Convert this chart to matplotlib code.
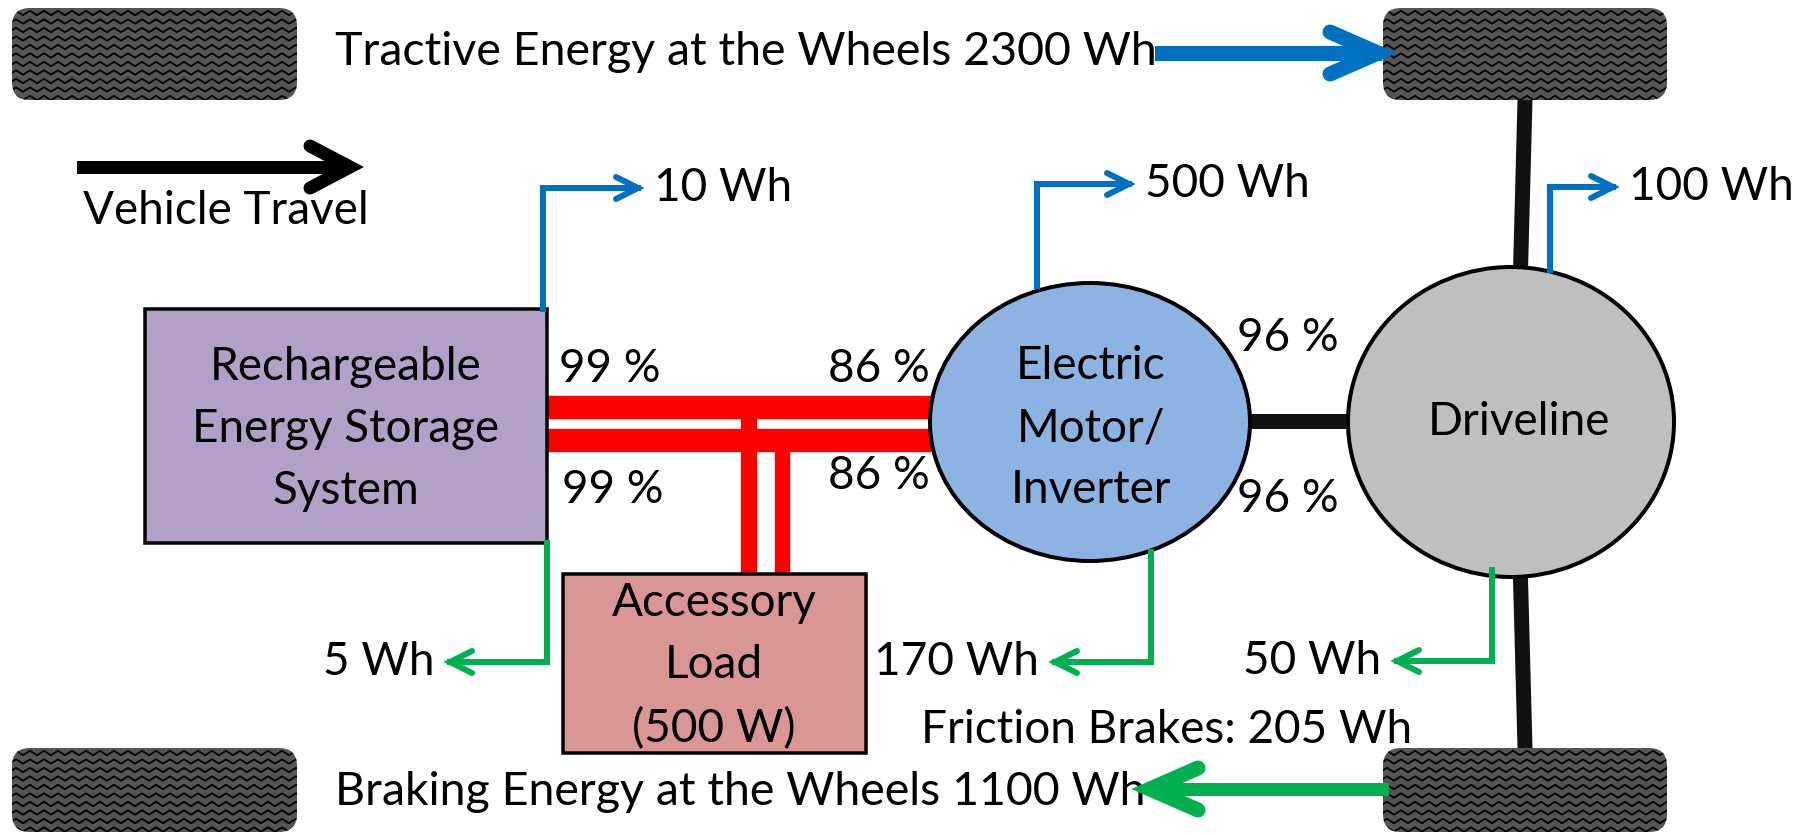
import matplotlib
matplotlib.use("Agg")
import matplotlib.pyplot as plt
from matplotlib.patches import Rectangle, Ellipse, FancyBboxPatch
import numpy as np

plt.rcParams["font.family"] = ["Lato", "DejaVu Sans"]

# Energy values (Wh) and efficiencies
tractive_wh = 2300
braking_wh = 1100
friction_wh = 205
discharge_losses_wh = [10, 500, 100]   # RESS, motor/inverter, driveline (blue)
regen_losses_wh = [5, 170, 50]         # RESS, motor/inverter, driveline (green)
ress_eff = [99, 99]                    # discharge, charge
motor_eff = [86, 86]
driveline_eff = [96, 96]
accessory_w = 500

component_labels = ["Rechargeable\nEnergy Storage\nSystem", "Electric\nMotor/\nInverter",
                    "Driveline", f"Accessory\nLoad\n({accessory_w} W)"]

BLUE = "#0070c0"
GREEN = "#00b050"
RED = "#ff0000"
PX = 0.72  # points per pixel at dpi 100
FS = 33

fig = plt.figure(figsize=(18.1, 8.35), dpi=100)
ax = fig.add_axes([0, 0, 1, 1])
ax.set_xlim(0, 1810)
ax.set_ylim(835, 0)
ax.axis("off")


def wheel(x0, y0, w, h):
    box = FancyBboxPatch((x0, y0), w, h, boxstyle="round,pad=0,rounding_size=18",
                         facecolor="#555555", edgecolor="none", zorder=2)
    ax.add_patch(box)
    xs = np.arange(x0 - 10, x0 + w + 10, 7.0)
    for yy in np.arange(y0 + 5, y0 + h + 5, 8.5):
        ys = yy + np.where(np.arange(len(xs)) % 2 == 0, -2.2, 2.2)
        ln, = ax.plot(xs, ys, color="black", lw=1.8 * PX, zorder=3)
        ln.set_clip_path(box)


def chevron(tx, ty, dx, dy, length, half, lw, color):
    # open arrow head pointing along (dx, dy) with tip at (tx, ty)
    px, py = -dy, dx
    bx, by = tx - dx * length, ty - dy * length
    ax.plot([bx + px * half, tx, bx - px * half], [by + py * half, ty, by - py * half],
            color=color, lw=lw, solid_capstyle="round", solid_joinstyle="miter", zorder=6)


def elbow_arrow(points, color, label, text_side):
    xs, ys = zip(*points)
    ax.plot(xs, ys, color=color, lw=6 * PX, solid_joinstyle="miter", zorder=5)
    tx, ty = points[-1]
    d = np.sign(tx - points[-2][0])
    chevron(tx, ty, d, 0, 22, 11, 6 * PX, color)
    if text_side == "right":
        ax.text(tx + 16, ty, label, ha="left", va="center", fontsize=FS)
    else:
        ax.text(tx - 16, ty, label, ha="right", va="center", fontsize=FS)


# wheels and axles
wheel(12, 8, 285, 92)
wheel(1383, 8, 284, 92)
wheel(12, 748, 285, 84)
wheel(1383, 748, 284, 84)
ax.plot([1525, 1520], [100, 290], color="#111111", lw=15 * PX, zorder=1)
ax.plot([1520, 1525], [560, 748], color="#111111", lw=15 * PX, zorder=1)

# electrical bus
ax.add_patch(Rectangle((547, 396), 390, 22, color=RED, zorder=2))
ax.add_patch(Rectangle((547, 429), 390, 22, color=RED, zorder=2))
ax.add_patch(Rectangle((741, 418), 15, 158, color=RED, zorder=2))
ax.add_patch(Rectangle((775, 451), 14, 125, color=RED, zorder=2))

# motor to driveline shaft
ax.plot([1245, 1352], [421, 421], color="#111111", lw=15 * PX, zorder=2)

# components
ax.add_patch(Rectangle((145, 309), 402, 234, facecolor="#b2a1c7", edgecolor="black",
                       lw=3.5 * PX, zorder=4))
ax.add_patch(Rectangle((563, 574), 303, 179, facecolor="#d99694", edgecolor="black",
                       lw=3.5 * PX, zorder=4))
ax.add_patch(Ellipse((1090, 422), 320, 278, facecolor="#8db3e2", edgecolor="black",
                     lw=4 * PX, zorder=4))
ax.add_patch(Ellipse((1511, 422), 326, 310, facecolor="#bfbfbf", edgecolor="black",
                     lw=4 * PX, zorder=4))

ax.text(346, 429, component_labels[0], ha="center", va="center", fontsize=FS,
        linespacing=1.6, zorder=7)
ax.text(1091, 428, component_labels[1], ha="center", va="center", fontsize=FS,
        linespacing=1.6, zorder=7)
ax.text(1519, 422, component_labels[2], ha="center", va="center", fontsize=FS, zorder=7)
ax.text(714, 666, component_labels[3], ha="center", va="center", fontsize=FS,
        linespacing=1.6, zorder=7)

# efficiencies
ax.text(610, 369, f"{ress_eff[0]} %", ha="center", va="center", fontsize=FS)
ax.text(613, 490, f"{ress_eff[1]} %", ha="center", va="center", fontsize=FS)
ax.text(879, 369, f"{motor_eff[0]} %", ha="center", va="center", fontsize=FS)
ax.text(879, 476, f"{motor_eff[1]} %", ha="center", va="center", fontsize=FS)
ax.text(1288, 338, f"{driveline_eff[0]} %", ha="center", va="center", fontsize=FS)
ax.text(1288, 499, f"{driveline_eff[1]} %", ha="center", va="center", fontsize=FS)

# losses during propulsion (blue) and regeneration (green)
elbow_arrow([(543, 309), (543, 188), (638, 188)], BLUE, f"{discharge_losses_wh[0]} Wh", "right")
elbow_arrow([(1037, 286), (1037, 184), (1129, 184)], BLUE, f"{discharge_losses_wh[1]} Wh", "right")
elbow_arrow([(1550, 270), (1550, 187), (1613, 187)], BLUE, f"{discharge_losses_wh[2]} Wh", "right")
elbow_arrow([(547, 543), (547, 662), (450, 662)], GREEN, f"{regen_losses_wh[0]} Wh", "left")
elbow_arrow([(1151, 552), (1151, 662), (1055, 662)], GREEN, f"{regen_losses_wh[1]} Wh", "left")
elbow_arrow([(1492, 570), (1492, 661), (1397, 661)], GREEN, f"{regen_losses_wh[2]} Wh", "left")

# wheel energy arrows
ax.plot([1162, 1374], [53, 53], color=BLUE, lw=15 * PX, zorder=5)
chevron(1378, 53, 1, 0, 48, 21, 15 * PX, BLUE)
ax.text(335, 52, f"Tractive Energy at the Wheels {tractive_wh} Wh", ha="left", va="center",
        fontsize=FS + 0.5)

ax.plot([1382, 1154], [789, 789], color=GREEN, lw=13 * PX, zorder=5)
chevron(1150, 789, -1, 0, 48, 21, 15 * PX, GREEN)
ax.text(335, 792, f"Braking Energy at the Wheels {braking_wh} Wh", ha="left", va="center",
        fontsize=FS + 0.5)
ax.text(921, 730, f"Friction Brakes: {friction_wh} Wh", ha="left", va="center", fontsize=FS)

# direction of travel
ax.plot([83, 340], [167, 167], color="black", lw=13 * PX, zorder=5)
chevron(350, 167, 1, 0, 40, 21, 13 * PX, "black")
ax.text(83, 211, "Vehicle Travel", ha="left", va="center", fontsize=FS)

fig.savefig("out.png", dpi=100)
